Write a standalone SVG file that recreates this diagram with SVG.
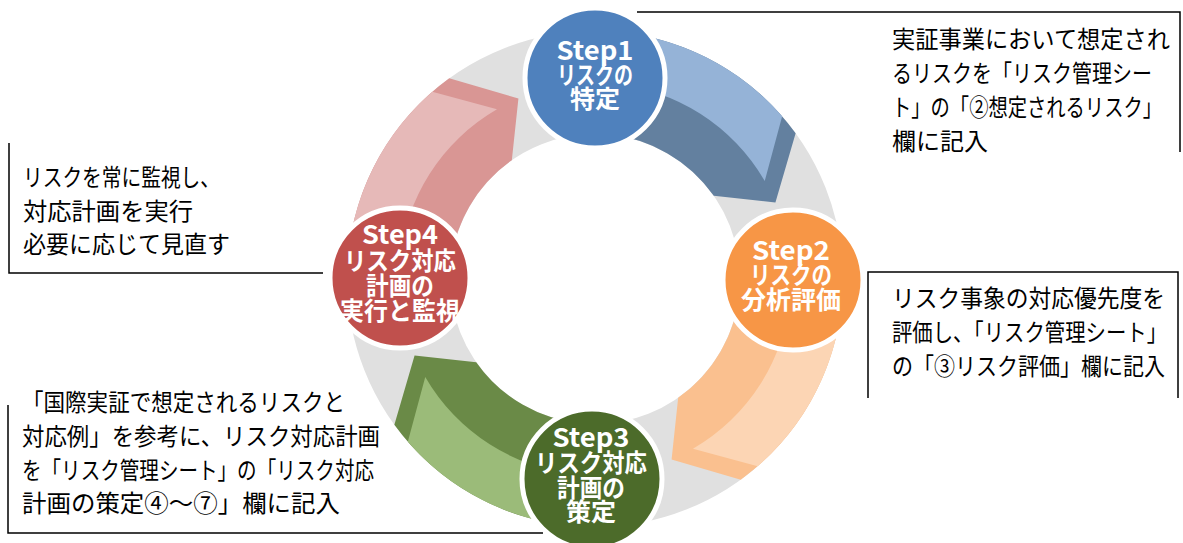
<svg xmlns="http://www.w3.org/2000/svg" width="1183" height="543" viewBox="0 0 1183 543">
<style>
.ring{fill:none;stroke:#E0E0E0;stroke-width:103}
.step{stroke:#fff;stroke-width:5}
.st{font-family:"Noto Sans CJK JP","Noto Sans",sans-serif;font-weight:700;font-size:25px;fill:#fff;text-anchor:middle}
.lat{font-size:26px}
.tx{font-family:"Noto Sans CJK JP","Noto Sans",sans-serif;font-size:24px;fill:#000}
.ln{fill:none;stroke:#000;stroke-width:1.5}
</style>
<defs>
<path id="sil" d="M247.06,21.62 A248,248 0 0 1 145.77,200.64 L76.58,180.42 L83.17,118.78 A145,145 0 0 0 144.45,12.64 Z"/>
<path id="face" d="M247.06,21.62 A248,248 0 0 1 162.70,187.17 L98.0,169.74 A196,196 0 0 0 195.25,17.08 Z"/>
</defs>
<rect width="1183" height="543" fill="#fff"/>
<circle class="ring" cx="595" cy="279" r="196.5"/>
<g id="arrows">
<g id="arrow1" transform="translate(595,279) rotate(-90)"><use href="#sil" fill="#63809F"/><use href="#face" fill="#95B3D7"/></g>
<g id="arrow2" transform="translate(595,279)"><use href="#sil" fill="#FAC08F"/><use href="#face" fill="#FCD5B4"/></g>
<g id="arrow3" transform="translate(595,279) rotate(90)"><use href="#sil" fill="#6A8A47"/><use href="#face" fill="#9BBB79"/></g>
<g id="arrow4" transform="translate(595,279) rotate(180)"><use href="#sil" fill="#D99694"/><use href="#face" fill="#E6B9B8"/></g>
</g>
<g id="connectors">
<path class="ln" d="M637,12 H1180 V152"/>
<path class="ln" d="M868,398 V272 H1178 V398"/>
<path class="ln" d="M9,143 V273 H323"/>
<path class="ln" d="M8,405 V533 H543"/>
</g>
<g id="step1">
<circle class="step" cx="595" cy="78" r="70" fill="#4F81BD"/>
<text class="st lat" x="595" y="60" textLength="77" lengthAdjust="spacingAndGlyphs">Step1</text>
<text class="st" x="595" y="84" textLength="76" lengthAdjust="spacingAndGlyphs">リスクの</text>
<text class="st" x="595" y="108" textLength="50" lengthAdjust="spacingAndGlyphs">特定</text>
</g>
<g id="step2">
<circle class="step" cx="793" cy="280" r="70" fill="#F79646"/>
<text class="st lat" x="791" y="260" textLength="78" lengthAdjust="spacingAndGlyphs">Step2</text>
<text class="st" x="791" y="284" textLength="82" lengthAdjust="spacingAndGlyphs">リスクの</text>
<text class="st" x="791" y="309" textLength="100" lengthAdjust="spacingAndGlyphs">分析評価</text>
</g>
<g id="step3">
<circle class="step" cx="592" cy="479" r="70" fill="#4C6B2A"/>
<text class="st lat" x="591" y="447" textLength="77" lengthAdjust="spacingAndGlyphs">Step3</text>
<text class="st" x="591" y="472" textLength="112" lengthAdjust="spacingAndGlyphs">リスク対応</text>
<text class="st" x="591" y="497" textLength="68" lengthAdjust="spacingAndGlyphs">計画の</text>
<text class="st" x="591" y="521" textLength="50" lengthAdjust="spacingAndGlyphs">策定</text>
</g>
<g id="step4">
<circle class="step" cx="400" cy="278" r="70" fill="#C0504D"/>
<text class="st lat" x="400" y="244" textLength="76" lengthAdjust="spacingAndGlyphs">Step4</text>
<text class="st" x="400" y="270" textLength="112" lengthAdjust="spacingAndGlyphs">リスク対応</text>
<text class="st" x="400" y="295" textLength="68" lengthAdjust="spacingAndGlyphs">計画の</text>
<text class="st" x="400" y="320" textLength="120" lengthAdjust="spacingAndGlyphs">実行と監視</text>
</g>
<g id="note1">
<text class="tx" x="892" y="48" textLength="278" lengthAdjust="spacingAndGlyphs">実証事業において想定され</text>
<text class="tx" x="892" y="82" textLength="260" lengthAdjust="spacingAndGlyphs">るリスクを「リスク管理シー</text>
<text class="tx" x="892" y="116" textLength="270" lengthAdjust="spacingAndGlyphs">ト」の「②想定されるリスク」</text>
<text class="tx" x="892" y="150" textLength="96" lengthAdjust="spacingAndGlyphs">欄に記入</text>
</g>
<g id="note2">
<text class="tx" x="892" y="307" textLength="273" lengthAdjust="spacingAndGlyphs">リスク事象の対応優先度を</text>
<text class="tx" x="892" y="341" textLength="275" lengthAdjust="spacingAndGlyphs">評価し、「リスク管理シート」</text>
<text class="tx" x="892" y="375" textLength="273" lengthAdjust="spacingAndGlyphs">の「③リスク評価」欄に記入</text>
</g>
<g id="note4">
<text class="tx" x="23" y="186" textLength="197" lengthAdjust="spacingAndGlyphs">リスクを常に監視し、</text>
<text class="tx" x="23" y="220" textLength="170" lengthAdjust="spacingAndGlyphs">対応計画を実行</text>
<text class="tx" x="23" y="253" textLength="207" lengthAdjust="spacingAndGlyphs">必要に応じて見直す</text>
</g>
<g id="note3">
<text class="tx" x="22" y="411" textLength="323" lengthAdjust="spacingAndGlyphs">「国際実証で想定されるリスクと</text>
<text class="tx" x="22" y="445" textLength="358" lengthAdjust="spacingAndGlyphs">対応例」を参考に、リスク対応計画</text>
<text class="tx" x="22" y="479" textLength="352" lengthAdjust="spacingAndGlyphs">を「リスク管理シート」の「リスク対応</text>
<text class="tx" x="22" y="512" textLength="318" lengthAdjust="spacingAndGlyphs">計画の策定④～⑦」欄に記入</text>
</g>
</svg>
